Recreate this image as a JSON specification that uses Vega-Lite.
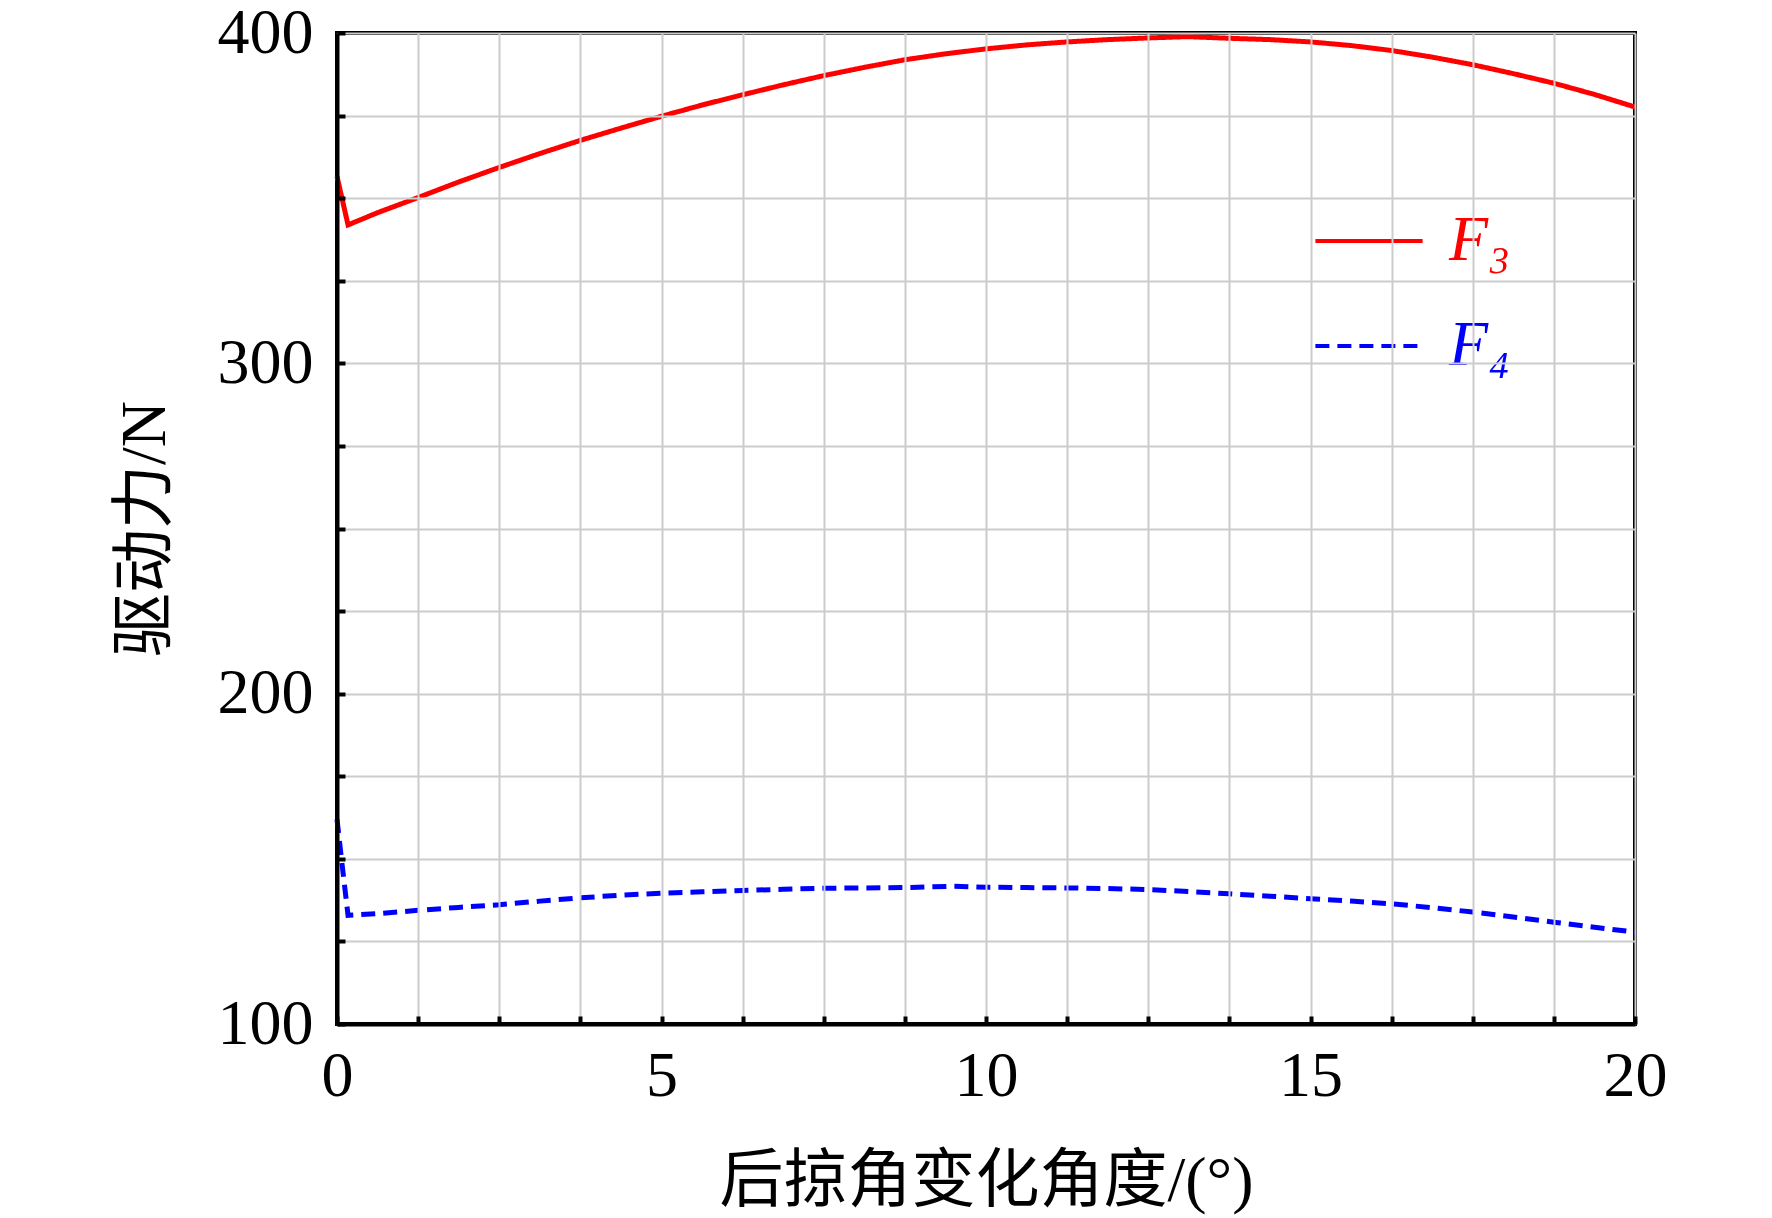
{
  "$schema": "https://vega.github.io/schema/vega-lite/v6.json",
  "width": 1298,
  "height": 991,
  "autosize": {"type": "none"},
  "padding": {"left": 337, "top": 33, "right": 137, "bottom": 194},
  "background": "white",
  "config": {
    "view": {"stroke": "black", "strokeWidth": 4},
    "font": "Liberation Serif"
  },
  "data": {
    "values": [
      {"angle": 0, "force": 356.6, "series": "F3"},
      {"angle": 0.17, "force": 341.9, "series": "F3"},
      {"angle": 0.625, "force": 345.6, "series": "F3"},
      {"angle": 1.25, "force": 350.2, "series": "F3"},
      {"angle": 1.875, "force": 354.9, "series": "F3"},
      {"angle": 2.5, "force": 359.3, "series": "F3"},
      {"angle": 3.125, "force": 363.5, "series": "F3"},
      {"angle": 3.75, "force": 367.5, "series": "F3"},
      {"angle": 4.375, "force": 371.2, "series": "F3"},
      {"angle": 5, "force": 374.8, "series": "F3"},
      {"angle": 5.625, "force": 378.2, "series": "F3"},
      {"angle": 6.25, "force": 381.3, "series": "F3"},
      {"angle": 6.875, "force": 384.3, "series": "F3"},
      {"angle": 7.5, "force": 387.1, "series": "F3"},
      {"angle": 8.125, "force": 389.6, "series": "F3"},
      {"angle": 8.75, "force": 391.9, "series": "F3"},
      {"angle": 9.375, "force": 393.7, "series": "F3"},
      {"angle": 10, "force": 395.2, "series": "F3"},
      {"angle": 10.625, "force": 396.4, "series": "F3"},
      {"angle": 11.25, "force": 397.3, "series": "F3"},
      {"angle": 11.875, "force": 398.0, "series": "F3"},
      {"angle": 12.5, "force": 398.5, "series": "F3"},
      {"angle": 13.1, "force": 398.9, "series": "F3"},
      {"angle": 13.75, "force": 398.4, "series": "F3"},
      {"angle": 14.375, "force": 398.0, "series": "F3"},
      {"angle": 15, "force": 397.3, "series": "F3"},
      {"angle": 15.625, "force": 396.2, "series": "F3"},
      {"angle": 16.25, "force": 394.7, "series": "F3"},
      {"angle": 16.875, "force": 392.7, "series": "F3"},
      {"angle": 17.5, "force": 390.4, "series": "F3"},
      {"angle": 18.125, "force": 387.7, "series": "F3"},
      {"angle": 18.75, "force": 384.8, "series": "F3"},
      {"angle": 19.375, "force": 381.4, "series": "F3"},
      {"angle": 20, "force": 377.6, "series": "F3"},
      {"angle": 0, "force": 162, "series": "F4"},
      {"angle": 0.08, "force": 148, "series": "F4"},
      {"angle": 0.17, "force": 132.9, "series": "F4"},
      {"angle": 0.625, "force": 133.4, "series": "F4"},
      {"angle": 1.25, "force": 134.4, "series": "F4"},
      {"angle": 1.875, "force": 135.3, "series": "F4"},
      {"angle": 2.5, "force": 136.1, "series": "F4"},
      {"angle": 3.125, "force": 137.2, "series": "F4"},
      {"angle": 3.75, "force": 138.2, "series": "F4"},
      {"angle": 4.375, "force": 139.0, "series": "F4"},
      {"angle": 5, "force": 139.6, "series": "F4"},
      {"angle": 5.625, "force": 140.0, "series": "F4"},
      {"angle": 6.25, "force": 140.4, "series": "F4"},
      {"angle": 6.875, "force": 140.8, "series": "F4"},
      {"angle": 7.5, "force": 141.1, "series": "F4"},
      {"angle": 8.125, "force": 141.2, "series": "F4"},
      {"angle": 8.75, "force": 141.3, "series": "F4"},
      {"angle": 9.5, "force": 141.7, "series": "F4"},
      {"angle": 10, "force": 141.4, "series": "F4"},
      {"angle": 10.625, "force": 141.3, "series": "F4"},
      {"angle": 11.25, "force": 141.2, "series": "F4"},
      {"angle": 11.875, "force": 141.0, "series": "F4"},
      {"angle": 12.5, "force": 140.7, "series": "F4"},
      {"angle": 13.125, "force": 140.1, "series": "F4"},
      {"angle": 13.75, "force": 139.4, "series": "F4"},
      {"angle": 14.375, "force": 138.7, "series": "F4"},
      {"angle": 15, "force": 137.9, "series": "F4"},
      {"angle": 15.625, "force": 137.2, "series": "F4"},
      {"angle": 16.25, "force": 136.4, "series": "F4"},
      {"angle": 16.875, "force": 135.2, "series": "F4"},
      {"angle": 17.5, "force": 133.9, "series": "F4"},
      {"angle": 18.125, "force": 132.4, "series": "F4"},
      {"angle": 18.75, "force": 130.8, "series": "F4"},
      {"angle": 19.375, "force": 129.3, "series": "F4"},
      {"angle": 20, "force": 127.8, "series": "F4"}
    ]
  },
  "mark": {"type": "line", "strokeWidth": 5},
  "encoding": {
    "x": {
      "field": "angle",
      "type": "quantitative",
      "scale": {"domain": [0, 20], "nice": false, "zero": false},
      "axis": {
        "values": [0, 1.25, 2.5, 3.75, 5, 6.25, 7.5, 8.75, 10, 11.25, 12.5, 13.75, 15, 16.25, 17.5, 18.75, 20],
        "title": "后掠角变化角度/(°)",
        "grid": true,
        "gridColor": "#cccccc",
        "gridWidth": 2,
        "domainColor": "black",
        "domainWidth": 4,
        "ticks": true,
        "tickColor": "black",
        "tickWidth": 4,
        "tickSize": -8,
        "labelExpr": "datum.value % 5 === 0 ? datum.label : ''",
        "labelFont": "Liberation Serif",
        "labelFontSize": 64,
        "labelColor": "black",
        "labelPadding": 28,
        "labelFlush": false,
        "labelOverlap": false,
        "titleFont": "Liberation Serif, Noto Sans CJK SC",
        "titleFontSize": 64,
        "titleFontWeight": "normal",
        "titleColor": "black",
        "titlePadding": 41,
        "zindex": 1,
        "encode": {
          "ticks": {"update": {"y2": {"signal": "datum.value % 5 === 0 ? -15 : -8"}}}
        }
      }
    },
    "y": {
      "field": "force",
      "type": "quantitative",
      "scale": {"domain": [100, 400], "nice": false, "zero": false},
      "axis": {
        "values": [100, 125, 150, 175, 200, 225, 250, 275, 300, 325, 350, 375, 400],
        "title": "驱动力/N",
        "grid": true,
        "gridColor": "#cccccc",
        "gridWidth": 2,
        "domainColor": "black",
        "domainWidth": 4,
        "ticks": true,
        "tickColor": "black",
        "tickWidth": 4,
        "tickSize": -8,
        "labelExpr": "datum.value % 100 === 0 ? datum.label : ''",
        "labelFont": "Liberation Serif",
        "labelFontSize": 64,
        "labelColor": "black",
        "labelPadding": 32,
        "labelFlush": false,
        "labelOverlap": false,
        "titleFont": "Liberation Serif, Noto Sans CJK SC",
        "titleFontSize": 64,
        "titleFontWeight": "normal",
        "titleColor": "black",
        "titlePadding": 40,
        "zindex": 1,
        "encode": {
          "ticks": {"update": {"x2": {"signal": "datum.value % 100 === 0 ? 15 : 8"}}}
        }
      }
    },
    "color": {
      "field": "series",
      "type": "nominal",
      "scale": {"domain": ["F3", "F4"], "range": ["#ff0000", "#0000ff"]},
      "legend": {
        "title": null,
        "orient": "none",
        "legendX": 966,
        "legendY": 142,
        "symbolType": "stroke",
        "symbolSize": 11500,
        "symbolStrokeWidth": 4,
        "labelFont": "Liberation Serif",
        "labelFontSize": 64,
        "labelFontStyle": "italic",
        "labelOffset": 24,
        "padding": 10,
        "rowPadding": 17,
        "fillColor": "white",
        "labelExpr": "datum.value === 'F3' ? 'F₃' : 'F₄'",
        "encode": {
          "labels": {"update": {"fill": {"signal": "datum.value === 'F3' ? '#ff0000' : '#0000ff'"}}}
        }
      }
    },
    "strokeDash": {
      "field": "series",
      "type": "nominal",
      "scale": {"domain": ["F3", "F4"], "range": [[1, 0], [14, 8]]},
      "legend": {
        "title": null,
        "orient": "none",
        "legendX": 966,
        "legendY": 142,
        "symbolType": "stroke",
        "symbolSize": 11500,
        "symbolStrokeWidth": 4,
        "labelFont": "Liberation Serif",
        "labelFontSize": 64,
        "labelFontStyle": "italic",
        "labelOffset": 24,
        "padding": 10,
        "rowPadding": 17,
        "fillColor": "white",
        "labelExpr": "datum.value === 'F3' ? 'F₃' : 'F₄'",
        "encode": {
          "labels": {"update": {"fill": {"signal": "datum.value === 'F3' ? '#ff0000' : '#0000ff'"}}}
        }
      }
    }
  }
}
